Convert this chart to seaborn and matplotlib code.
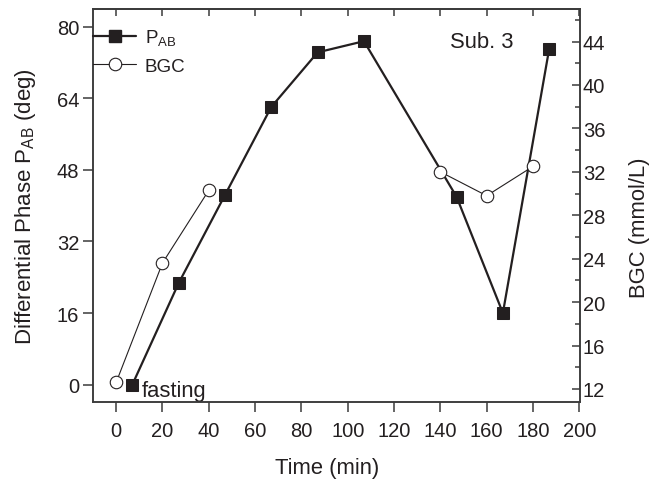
import matplotlib
matplotlib.use("Agg")
import matplotlib.pyplot as plt
import seaborn as sns
import numpy as np
from matplotlib.ticker import MultipleLocator
from matplotlib.lines import Line2D

# ---- data ----
pab_time = [7, 27, 47, 67, 87, 107, 147, 167, 187]
pab_vals = [0.0, 22.7, 42.4, 62.1, 74.3, 76.8, 42.0, 16.0, 75.1]
bgc_time = [0, 20, 40, 140, 160, 180]
bgc_vals = [12.6, 23.6, 30.3, 32.0, 29.8, 32.5]
bgc_segment = [0, 0, 0, 1, 1, 1]
x_ticks = [0, 20, 40, 60, 80, 100, 120, 140, 160, 180, 200]
left_ticks = [0, 16, 32, 48, 64, 80]
right_ticks = [12, 16, 20, 24, 28, 32, 36, 40, 44]

sns.set_style("ticks")
plt.rcParams['font.family'] = ['Liberation Sans', 'DejaVu Sans']
plt.rcParams['mathtext.fontset'] = 'custom'
plt.rcParams['mathtext.rm'] = 'Liberation Sans'
plt.rcParams['mathtext.it'] = 'Liberation Sans'
plt.rcParams['mathtext.default'] = 'regular'

TXT = '#231f20'
SP = '#3a3a3a'
FS = 14.5      # tick labels
LFS = 15.8     # axis labels / annotations

fig = plt.figure(figsize=(6.54, 4.81), dpi=100)
ax = fig.add_axes([93/654, 1-403/481, (580-93)/654, (403-10)/481])
ax2 = ax.twinx()

sns.lineplot(x=pab_time, y=pab_vals, ax=ax, color=TXT, lw=1.6, marker='s',
             markersize=8.5, markerfacecolor=TXT, markeredgecolor=TXT, sort=False)
sns.lineplot(x=bgc_time, y=bgc_vals, units=bgc_segment, estimator=None,
             ax=ax2, color=TXT, lw=0.8, marker='o',
             markersize=9, markerfacecolor='white', markeredgecolor=TXT,
             markeredgewidth=0.8, sort=False)

ax.set_xlim(-10, 200.3)
ax.set_ylim(-3.9, 84)
ax2.set_ylim(10.8, 47.0)
ax.set_xticks(x_ticks)
ax.set_yticks(left_ticks)
ax2.set_yticks(right_ticks)
ax2.yaxis.set_minor_locator(MultipleLocator(2))

for a in (ax, ax2):
    for s in a.spines.values():
        s.set_visible(True)
        s.set_color(SP)
        s.set_linewidth(1.1)

ax.tick_params(axis='x', which='major', direction='out', length=7, width=1.1,
               pad=7, labelsize=FS, colors=SP, labelcolor=TXT)
ax.tick_params(axis='y', which='major', direction='out', length=7, width=1.1,
               pad=3, labelsize=FS, colors=SP, labelcolor=TXT)
ax2.tick_params(axis='y', which='major', direction='in', length=6, width=1.1,
                pad=2, labelsize=FS, colors=SP, labelcolor=TXT)
ax2.tick_params(axis='y', which='minor', direction='in', length=3.5, width=1.1,
                colors=SP)

# top ticks inward
top = ax.secondary_xaxis('top')
top.set_xticks(x_ticks)
top.tick_params(axis='x', direction='in', length=5, width=1.1, colors=SP,
                labeltop=False)
top.spines['top'].set_color(SP)
top.spines['top'].set_linewidth(1.1)

ax.set_xlabel('Time (min)', fontsize=LFS, color=TXT)
ax.xaxis.set_label_coords((327 - 93) / 487, (403 - 458) / 393)
ax.set_ylabel('Differential Phase P$_{AB}$ (deg)', fontsize=LFS + 0.2, color=TXT)
ax.yaxis.set_label_coords((38 - 93) / 487, 0.5)
ax2.set_ylabel('BGC (mmol/L)', fontsize=LFS, color=TXT)
ax2.yaxis.set_label_coords((629 - 93) / 487, (403 - 228) / 393)

ax.text(11.0, -2.6, 'fasting', fontsize=LFS, color=TXT, ha='left', va='baseline')
ax2.text(0.799, 0.918, 'Sub. 3', transform=ax.transAxes, fontsize=LFS,
         color=TXT, ha='center', va='center')

h1 = Line2D([], [], color=TXT, lw=1.6, marker='s', markersize=8.5,
            markerfacecolor=TXT, markeredgecolor=TXT)
h2 = Line2D([], [], color=TXT, lw=0.8, marker='o', markersize=9,
            markerfacecolor='white', markeredgecolor=TXT, markeredgewidth=0.8)
leg = ax2.legend([h1, h2], ['P$_{AB}$', 'BGC'], loc='upper left',
                 bbox_to_anchor=(0, 0.953), frameon=False, handlelength=2.3,
                 handletextpad=0.45, borderpad=0, borderaxespad=0,
                 labelspacing=0.55, fontsize=13.5)
for t in leg.get_texts():
    t.set_color(TXT)

fig.savefig('out.png', dpi=100)
